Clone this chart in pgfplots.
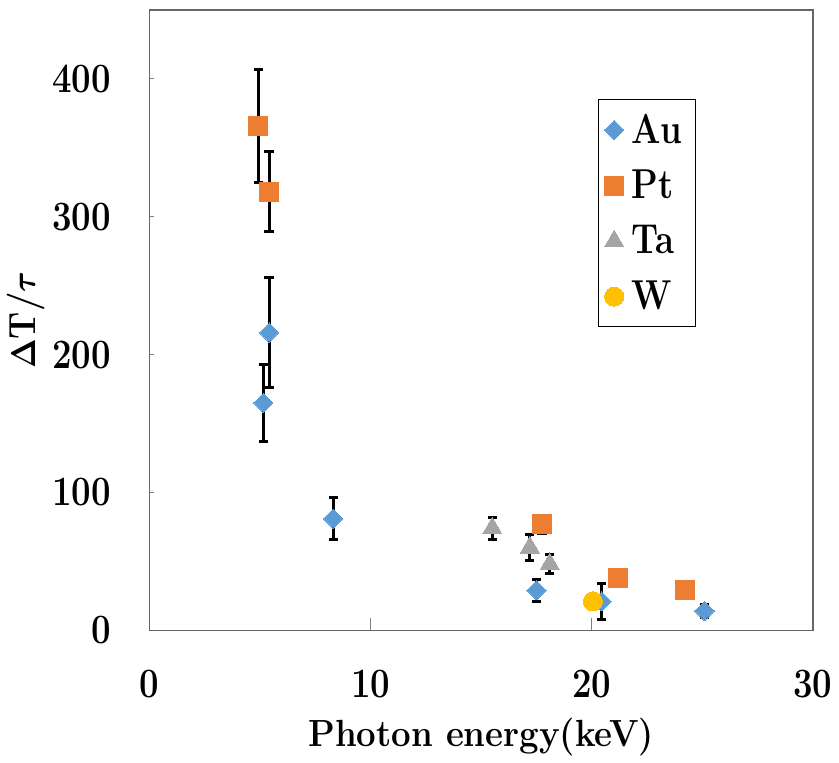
\documentclass[border=0pt]{standalone}
\usepackage{pgfplots}
\pgfplotsset{compat=1.18}
\usepackage{bm}
\usepackage{graphicx}
\definecolor{cAu}{HTML}{5B9BD5}
\definecolor{cPt}{HTML}{ED7D31}
\definecolor{cTa}{HTML}{A5A5A5}
\definecolor{cW}{HTML}{FFC000}
\pgfplotsset{
  eb/.style={error bars/.cd, y dir=both, y explicit,
    error bar style={line width=1.5pt,black},
    error mark options={rotate=90,mark size=2.3pt,line width=1.5pt,black}},
}
\newcommand{\tf}{\fontsize{21}{25}\selectfont\bfseries}
\newcommand{\lf}{\fontsize{19}{23}\selectfont\bfseries}
\newcommand{\nt}[1]{\scalebox{0.83}[1]{#1}}
\newcommand{\nl}[1]{\scalebox{0.92}[1]{#1}}
\begin{document}
\begin{tikzpicture}
\begin{axis}[
  scale only axis, width=333pt, height=311.5pt,
  xmin=0, xmax=30, ymin=0, ymax=450,
  xtick={0,10,20,30}, ytick={0,100,200,300,400},
  xtick pos=bottom, ytick pos=left, tick align=inside, major tick length=6pt,
  xtick style={black!50,line width=0.6pt},
  ytick style={black!50,line width=0.6pt,/pgfplots/major tick length=2pt},
  axis line style={black!60,line width=0.7pt},
  tick label style={font=\tf},
  /pgf/number format/assume math mode=true,
  xticklabel={\nt{\pgfmathprintnumber{\tick}}},
  yticklabel={\nt{\pgfmathprintnumber{\tick}}},
  xticklabel style={yshift=-16.5pt},
  yticklabel style={xshift=-16pt},
  label style={font=\lf},
  xlabel={\nl{Photon energy(keV)}},
  xlabel shift=3pt,
  ylabel={\nl{$\bm{\Delta}$T/$\bm{\tau}$}},
  ylabel shift=-3pt,
  legend cell align=left,
  legend style={at={(0.676,0.856)}, anchor=north west, draw=black, line width=0.6pt,
    font=\tf, row sep=8pt, inner xsep=3pt, inner ysep=5pt, nodes={inner xsep=4pt}},
]
\path (rel axis cs:0,1) ++(0,5pt) coordinate (pad);
\addplot[only marks, mark=square*, mark options={rotate=45,fill=cAu,draw=cAu,line width=0pt}, mark size=3.4pt, eb]
  table[x=x,y=y,y error=e] {
x y e
5.4 216 40
5.14 165 28
8.3 81 15
17.5 29 8
20.45 21 13
25.1 14 5
};
\addlegendentry{\nt{Au}}
\addplot[only marks, mark=square*, mark options={fill=cPt,draw=cPt,line width=0pt}, mark size=4.8pt, eb]
  table[x=x,y=y,y error=e] {
x y e
4.91 366 41
5.4 318 29
17.75 77 6.5
21.2 38 0
24.2 29 0
};
\addlegendentry{\nt{Pt}}
\addplot[only marks, mark=triangle*, mark options={fill=cTa,draw=cTa,line width=0pt}, mark size=5.6pt, eb]
  table[x=x,y=y,y error=e] {
x y e
15.5 74 8
17.2 60 9.5
18.1 48 7
};
\addlegendentry{\nt{Ta}}
\addplot[only marks, mark=*, mark options={fill=cW,draw=cW,line width=0pt}, mark size=4.8pt]
  table[x=x,y=y] {
x y
20.05 21
};
\addlegendentry{\nt{W}}
\end{axis}
\path (current axis.north west) ++(0,5pt);
\end{tikzpicture}
\end{document}
